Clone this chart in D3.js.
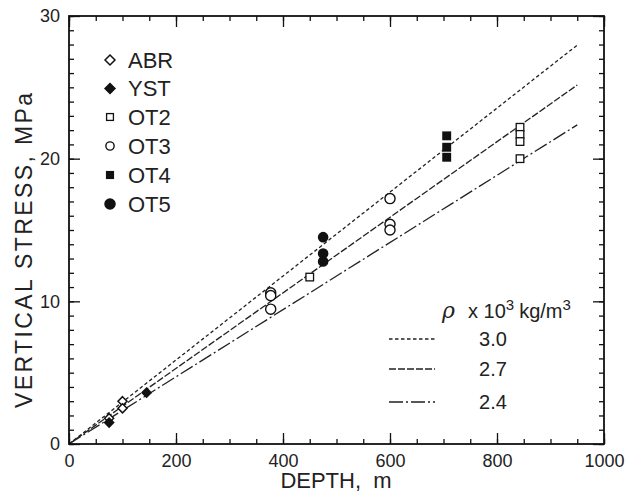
<!DOCTYPE html>
<html>
<head>
<meta charset="utf-8">
<script src="https://cdn.jsdelivr.net/npm/d3@7"></script>
<style>
  html, body { margin: 0; padding: 0; background: #fff; }
  svg { display: block; font-family: "Liberation Sans", Arial, sans-serif; }
</style>
</head>
<body>
<svg id="chart" width="636" height="492"></svg>
<script>
// Vertical stress measurements versus depth, by site
const siteNames = ["ABR", "YST", "OT2", "OT3", "OT4", "OT5"];
const abr = [[75, 1.8], [100, 3.0], [100, 2.5]];
const yst = [[75, 1.5], [145, 3.6]];
const ot2 = [[450, 11.7], [843, 22.2], [843, 21.7], [843, 21.2], [843, 20.0]];
const ot3 = [[377, 10.6], [377, 10.4], [377, 9.45], [600, 17.2], [600, 15.4], [600, 15.0]];
const ot4 = [[706, 21.6], [706, 20.8], [706, 20.1]];
const ot5 = [[475, 14.5], [475, 13.35], [475, 12.8]];

// Overburden lines for rock densities (x 10^3 kg/m^3)
const densities = [3.0, 2.7, 2.4];
const densityLabels = ["3.0", "2.7", "2.4"];
const lineDepths = [0, 950];
const gravity = 9.81;

const xTicks = [0, 200, 400, 600, 800, 1000];
const yTicks = [0, 10, 20, 30];

(function () {
const svg = d3.select("#chart");
const plotL = 69, plotR = 604, plotT = 16, plotB = 444;
const x = d3.scaleLinear().domain([0, 1000]).range([plotL, plotR]);
const y = d3.scaleLinear().domain([0, 30]).range([plotB, plotT]);

const ink = "#111";

// Fit lines
const dashes = ["3.5,2.5", "7,2", "14,3,2,3"];
const lineGen = d3.line().x(d => x(d[0])).y(d => y(d[1]));
densities.forEach((rho, i) => {
  const pts = lineDepths.map(z => [z, rho * gravity * z / 1000]);
  svg.append("path")
    .attr("d", lineGen(pts))
    .attr("fill", "none")
    .attr("stroke", "#222")
    .attr("stroke-width", 1.3)
    .attr("stroke-dasharray", dashes[i]);
});

// Marker shapes
function drawMarker(g, kind, cx, cy, scale) {
  const s = scale || 1;
  if (kind === "diamondOpen" || kind === "diamondFill") {
    g.append("path").attr("d", d3.symbol().type(d3.symbolDiamond2).size(52 * s * s)())
      .attr("transform", `translate(${cx},${cy})`)
      .attr("fill", kind === "diamondFill" ? ink : "#fff")
      .attr("stroke", ink).attr("stroke-width", 1.5);
  } else if (kind === "squareOpen" || kind === "squareFill") {
    const h = 3.8 * s;
    g.append("rect").attr("x", cx - h).attr("y", cy - h)
      .attr("width", 2 * h).attr("height", 2 * h)
      .attr("fill", kind === "squareFill" ? ink : "#fff")
      .attr("stroke", ink).attr("stroke-width", 1.3);
  } else {
    g.append("circle").attr("cx", cx).attr("cy", cy).attr("r", 4.6 * s)
      .attr("fill", kind === "circleFill" ? ink : "#fff")
      .attr("stroke", ink).attr("stroke-width", 1.4);
  }
}

const seriesData = [abr, yst, ot2, ot3, ot4, ot5];
const kinds = ["diamondOpen", "diamondFill", "squareOpen", "circleOpen", "squareFill", "circleFill"];
const pointLayer = svg.append("g");
seriesData.forEach((rows, i) => {
  rows.forEach(r => drawMarker(pointLayer, kinds[i], x(r[0]), y(r[1]), kinds[i] === "circleOpen" ? 1.1 : 1));
});

// Axes: ticks point inward on all four sides
function styleAxis(g) {
  g.select(".domain").remove();
  g.selectAll("line").attr("stroke", ink).attr("stroke-width", 1.3);
  g.selectAll("text").attr("fill", "#222").style("font-size", "18px")
    .style("font-family", "'Liberation Sans', Arial, sans-serif");
}
const minorX = d3.range(0, 1001, 50);
const minorY = d3.range(0, 31, 1);

svg.append("g").attr("transform", `translate(0,${plotB})`)
  .call(d3.axisBottom(x).tickValues(minorX).tickSize(-5).tickFormat(""))
  .call(styleAxis);
svg.append("g").attr("transform", `translate(0,${plotB})`)
  .call(d3.axisBottom(x).tickValues(xTicks).tickSize(-11).tickPadding(10).tickFormat(d3.format("d")))
  .call(styleAxis);
svg.append("g").attr("transform", `translate(0,${plotT})`)
  .call(d3.axisTop(x).tickValues(minorX).tickSize(-5).tickFormat(""))
  .call(styleAxis);
svg.append("g").attr("transform", `translate(0,${plotT})`)
  .call(d3.axisTop(x).tickValues(xTicks).tickSize(-11).tickFormat(""))
  .call(styleAxis);
svg.append("g").attr("transform", `translate(${plotL},0)`)
  .call(d3.axisLeft(y).tickValues(minorY).tickSize(-5).tickFormat(""))
  .call(styleAxis);
svg.append("g").attr("transform", `translate(${plotL},0)`)
  .call(d3.axisLeft(y).tickValues(yTicks).tickSize(-11).tickPadding(9).tickFormat(d3.format("d")))
  .call(styleAxis);
svg.append("g").attr("transform", `translate(${plotR},0)`)
  .call(d3.axisRight(y).tickValues(minorY).tickSize(-5).tickFormat(""))
  .call(styleAxis);
svg.append("g").attr("transform", `translate(${plotR},0)`)
  .call(d3.axisRight(y).tickValues(yTicks).tickSize(-11).tickFormat(""))
  .call(styleAxis);

// Frame
svg.append("rect").attr("x", plotL).attr("y", plotT)
  .attr("width", plotR - plotL).attr("height", plotB - plotT)
  .attr("fill", "none").attr("stroke", ink).attr("stroke-width", 1.8);

// Axis titles
svg.append("text").attr("x", 336).attr("y", 488).attr("text-anchor", "middle")
  .style("font-size", "22px").attr("fill", "#222")
  .attr("xml:space", "preserve").text("DEPTH,  m");
svg.append("text").attr("transform", "translate(32,250.5) rotate(-90)")
  .attr("text-anchor", "middle").style("font-size", "23px").attr("fill", "#222")
  .attr("textLength", 315).attr("lengthAdjust", "spacing")
  .text("VERTICAL  STRESS,  MPa");

// Site legend
const legendRows = [60, 88.5, 117, 146, 175, 204];
const legend = svg.append("g");
siteNames.forEach((name, i) => {
  const cy = legendRows[i];
  const sc = kinds[i] === "diamondOpen" || kinds[i] === "diamondFill" ? 1.1 :
             kinds[i] === "circleFill" ? 1.1 : 0.9;
  drawMarker(legend, kinds[i], 110, cy, sc);
  legend.append("text").attr("x", 128).attr("y", cy + 7.5)
    .style("font-size", "22px").attr("fill", "#222").text(name);
});

// Density legend
const dl = svg.append("g").attr("fill", "#222");
dl.append("text").attr("x", 442).attr("y", 318).style("font-size", "22px")
  .style("font-style", "italic").style("font-family", "'DejaVu Serif', serif").text("ρ");
const unit = dl.append("text").attr("x", 468).attr("y", 318).style("font-size", "20px");
unit.append("tspan").text("x 10");
unit.append("tspan").attr("dy", -8).style("font-size", "15px").text("3");
unit.append("tspan").attr("dy", 8).attr("dx", 5).text("kg/m");
unit.append("tspan").attr("dy", -8).style("font-size", "15px").text("3");

const sampleY = [339, 369, 402];
densities.forEach((rho, i) => {
  svg.append("line").attr("x1", 389).attr("x2", 435)
    .attr("y1", sampleY[i]).attr("y2", sampleY[i])
    .attr("stroke", "#222").attr("stroke-width", 1.3)
    .attr("stroke-dasharray", dashes[i]);
  svg.append("text").attr("x", 493).attr("y", sampleY[i] + 7)
    .attr("text-anchor", "middle").style("font-size", "20px").attr("fill", "#222")
    .text(densityLabels[i]);
});
})();
</script>
</body>
</html>
